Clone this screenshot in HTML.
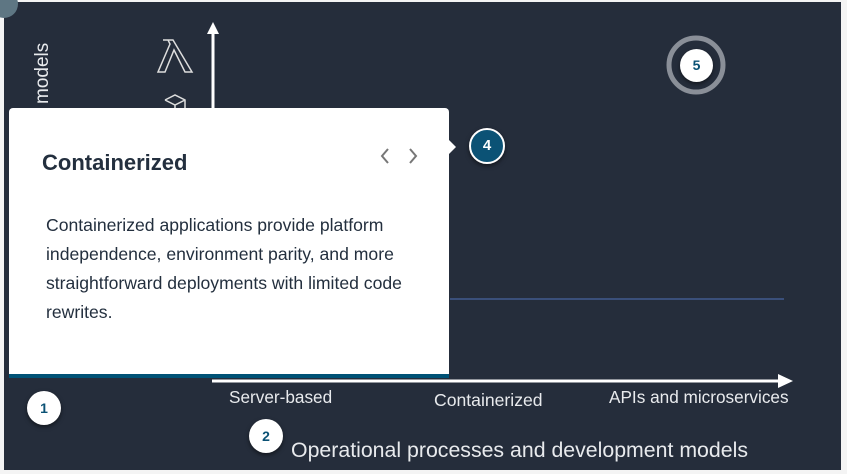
<!DOCTYPE html>
<html><head><style>
body{margin:0;width:847px;height:474px;background:#f4f4f4;position:relative;overflow:hidden;font-family:"Liberation Sans",sans-serif}
.bg{position:absolute;left:4px;top:2px;width:837px;height:468px;background:#252d3b}
.t{position:absolute;color:#e8eaed;white-space:nowrap}
.c{position:absolute;border-radius:50%;background:#fff;color:#0b5275;font-weight:bold;font-size:14px;text-align:center;box-shadow:0 2px 4px rgba(0,0,0,.5)}
</style></head><body>
<div class="bg"></div>
<div style="position:absolute;left:-10px;top:-10px;width:28px;height:28px;border-radius:50%;background:#5e7683"></div>
<div class="t" style="font-size:19px;transform:rotate(-90deg);transform-origin:0 0;top:104px;left:32px">models</div>
<svg style="position:absolute;left:0;top:0" width="847" height="474">
<line x1="213" y1="28" x2="213" y2="110" stroke="#fff" stroke-width="3"/>
<polygon points="207,34 213,22 219,34" fill="#fff"/>
<path d="M163,40 h10 l19,32 h-7 l-11,-22 l-9,22 h-7 l12,-28 l-2,-4 h-5z" fill="none" stroke="#ddd" stroke-width="1.5"/>
<path d="M165,100 l10,-5 l10,5 v8 M165,100 l10,5 l10,-5 M175,105 v5" fill="none" stroke="#ddd" stroke-width="1.5"/>
<line x1="450" y1="299" x2="784" y2="299" stroke="#3a4f7a" stroke-width="2"/>
<line x1="212" y1="381" x2="780" y2="381" stroke="#fff" stroke-width="3"/>
<polygon points="778,374 793,381 778,388" fill="#fff"/>
<circle cx="696" cy="65" r="27" fill="none" stroke="#8a8f98" stroke-width="5"/>
</svg>
<div style="position:absolute;left:9px;top:108px;width:440px;height:266px;background:#fff;border-radius:4px 4px 0 0;border-bottom:4px solid #005276">
<div style="position:absolute;left:33px;top:42px;font-size:22px;font-weight:bold;color:#232f3e">Containerized</div>
<svg style="position:absolute;left:370px;top:38px" width="45" height="20"><path d="M9,3 L3,10 L9,17 M31,3 L37,10 L31,17" fill="none" stroke="#777" stroke-width="2"/></svg>
<div style="position:absolute;left:37px;top:103px;width:400px;font-size:17.6px;line-height:29px;color:#232f3e">Containerized applications provide platform independence, environment parity, and more straightforward deployments with limited code rewrites.</div>
</div>
<div style="position:absolute;left:449px;top:140px;width:0;height:0;border-top:7px solid transparent;border-bottom:7px solid transparent;border-left:7px solid #fff"></div>
<div class="c" style="left:469px;top:128px;width:36px;height:36px;line-height:32px;background:#0b5275;color:#fff;border:2px solid #fff;box-sizing:border-box;font-size:15px">4</div>
<div class="c" style="left:680px;top:49px;width:33px;height:33px;line-height:33px">5</div>
<div class="c" style="left:27px;top:391px;width:34px;height:34px;line-height:34px">1</div>
<div class="c" style="left:249px;top:419px;width:34px;height:34px;line-height:34px">2</div>
<div class="t" style="left:229px;top:387px;font-size:17.2px">Server-based</div>
<div class="t" style="left:434px;top:390px;font-size:17.6px">Containerized</div>
<div class="t" style="left:609px;top:387px;font-size:17.2px">APIs and microservices</div>
<div class="t" style="left:291px;top:438px;font-size:21.3px">Operational processes and development models</div>
</body></html>
